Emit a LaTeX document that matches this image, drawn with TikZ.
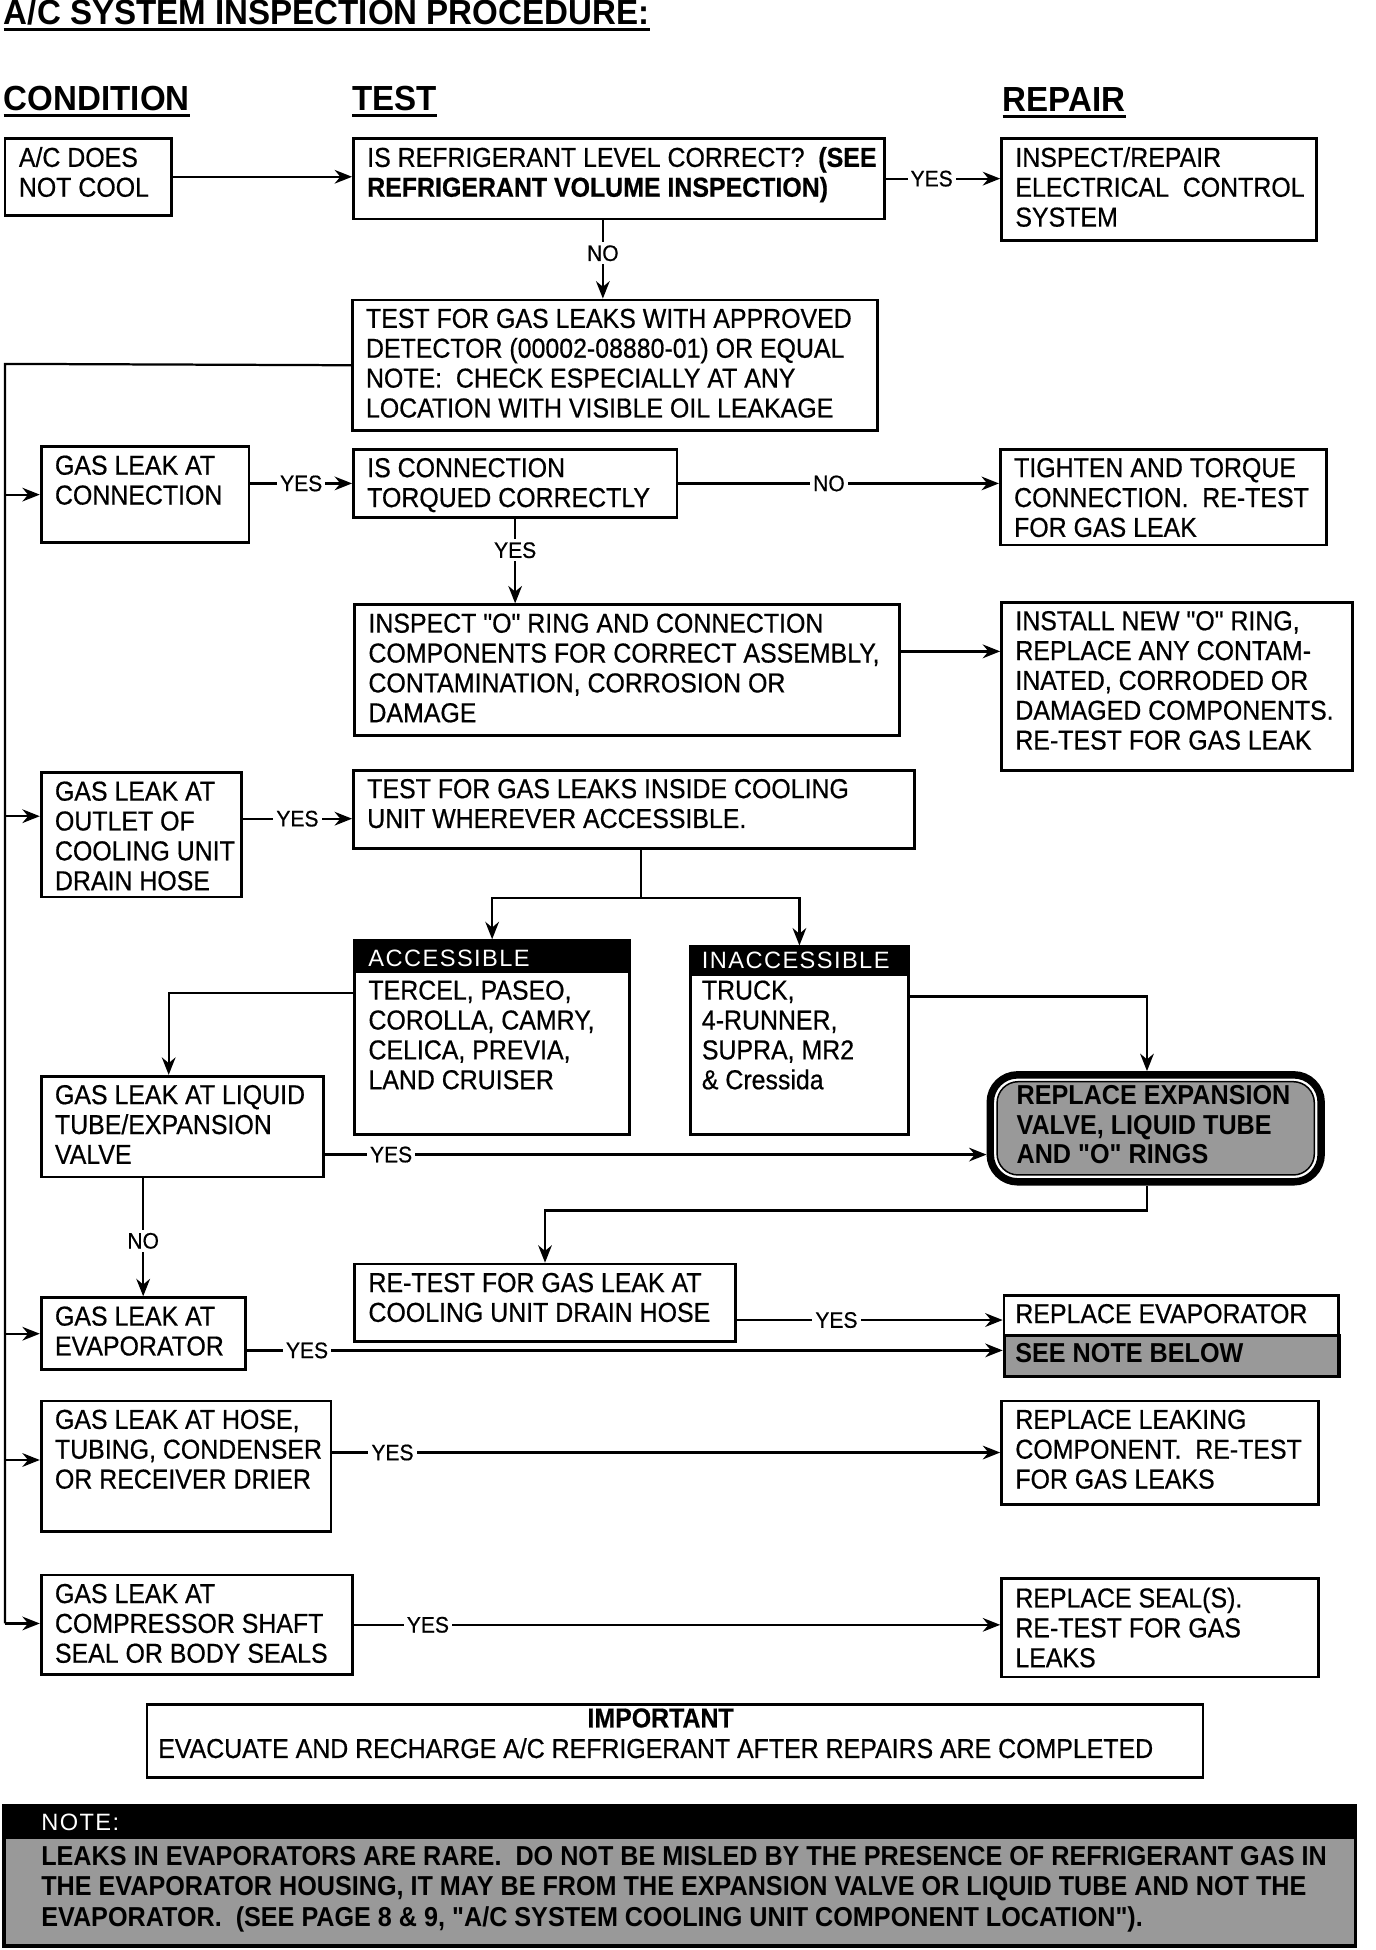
\documentclass[tikz,border=0pt]{standalone}
\usepackage{fontspec}
\setmainfont{Liberation Sans}
\newfontfamily\bodyff[FakeStretch=0.91,FakeBold=0.6]{Liberation Sans}
\newfontfamily\titleff[FakeStretch=0.95]{Liberation Sans}
\newfontfamily\lblff[FakeStretch=0.94,FakeBold=0.6]{Liberation Sans}
\newfontfamily\noteff[FakeStretch=0.92]{Liberation Sans}
\newfontfamily\hdrff[LetterSpace=6]{Liberation Sans}
\usetikzlibrary{arrows.meta,calc}
\newcommand\flowbox[6]{%
  \node[boxst, minimum width={#4-#2}, minimum height={#5-#3}] (#1) at (#2,#3) {};
  \node[txt] (#1-t) at ({#2+12},{#3+8}) {#6};}
\begin{document}
\begin{tikzpicture}[x=1pt, y=-1pt,
  boxst/.style={draw, line width=2.2pt, anchor=north west, inner sep=0pt},
  txt/.style={anchor=north west, inner sep=0pt, align=left, font={\bodyff\fontsize{22}{24}\selectfont}},
  ttl/.style={inner sep=0pt, font={\titleff\bfseries\fontsize{28}{30}\selectfont}},
  ul/.style={line width=2.5pt},
  ln/.style={line width=1.8pt},
  arr/.style={line width=1.8pt, -{Stealth[length=14pt, width=11pt]}},
  lbl/.style={fill=white, inner sep=2.5pt, font={\lblff\fontsize{18}{20}\selectfont}},
  hdr/.style={anchor=west, inner sep=0pt, text=white, font={\hdrff\fontsize{19}{21}\selectfont}},
  shade/.style={fill=black!40}]
\useasboundingbox (0,0) rectangle (1106,1567.5);

% headings
\node[ttl, anchor=base west] (title) at (3,20) {A/C SYSTEM INSPECTION PROCEDURE:};
\node[ttl, anchor=base west] (hcond) at (3,89) {CONDITION};
\node[ttl, anchor=base west] (htest) at (283,89) {TEST};
\node[ttl, anchor=base west] (hrep) at (806,90) {REPAIR};
\foreach \h in {title,hcond,htest,hrep}
  \draw[ul] ([yshift=-3.5pt]\h.base west) -- ([yshift=-3.5pt]\h.base east);

% boxes
\flowbox{acdoes}{3}{110}{137}{172}{A/C DOES\\NOT COOL}
\flowbox{refq}{283}{110}{710}{175}{IS REFRIGERANT LEVEL CORRECT?\ \ \textbf{(SEE}\\\textbf{REFRIGERANT VOLUME INSPECTION)}}
\flowbox{elec}{804}{110}{1057}{192}{INSPECT/REPAIR\\ELECTRICAL\ \ CONTROL\\SYSTEM}
\flowbox{gastest}{282}{240}{704}{345}{TEST FOR GAS LEAKS WITH APPROVED\\DETECTOR (00002-08880-01) OR EQUAL\\NOTE:\ \ CHECK ESPECIALLY AT ANY\\LOCATION WITH VISIBLE OIL LEAKAGE}
\flowbox{gasconn}{32}{358}{199}{435}{GAS LEAK AT\\CONNECTION}
\flowbox{torq}{283}{360}{543}{415}{IS CONNECTION\\TORQUED CORRECTLY}
\flowbox{tight}{803}{360}{1065}{437}{TIGHTEN AND TORQUE\\CONNECTION.\ \ RE-TEST\\FOR GAS LEAK}
\flowbox{inspO}{284}{485}{722}{590}{INSPECT "O" RING AND CONNECTION\\COMPONENTS FOR CORRECT ASSEMBLY,\\CONTAMINATION, CORROSION OR\\DAMAGE}
\flowbox{install}{804}{483}{1086}{618}{INSTALL NEW "O" RING,\\REPLACE ANY CONTAM-\\INATED, CORRODED OR\\DAMAGED COMPONENTS.\\RE-TEST FOR GAS LEAK}
\flowbox{outlet}{32}{620}{193}{720}{GAS LEAK AT\\OUTLET OF\\COOLING UNIT\\DRAIN HOSE}
\flowbox{inside}{283}{618}{734}{681}{TEST FOR GAS LEAKS INSIDE COOLING\\UNIT WHEREVER ACCESSIBLE.}
\flowbox{liquid}{32}{864}{259}{945}{GAS LEAK AT LIQUID\\TUBE/EXPANSION\\VALVE}
\flowbox{retest}{284}{1015}{590}{1077}{RE-TEST FOR GAS LEAK AT\\COOLING UNIT DRAIN HOSE}
\flowbox{evap}{32}{1042}{196}{1100}{GAS LEAK AT\\EVAPORATOR}
\flowbox{hose}{32}{1125}{265}{1230}{GAS LEAK AT HOSE,\\TUBING, CONDENSER\\OR RECEIVER DRIER}
\flowbox{replk}{804}{1125}{1059}{1208}{REPLACE LEAKING\\COMPONENT.\ \ RE-TEST\\FOR GAS LEAKS}
\flowbox{comp}{32}{1265}{282}{1345}{GAS LEAK AT\\COMPRESSOR SHAFT\\SEAL OR BODY SEALS}
\flowbox{repseal}{804}{1268}{1059}{1347}{REPLACE SEAL(S).\\RE-TEST FOR GAS\\LEAKS}

% accessible / inaccessible
\node[boxst, minimum width=221, minimum height=156] (access) at (284,755) {};
\node[fill=black, anchor=north west, minimum width=221, minimum height=27, inner sep=0pt] (access-h) at (284,755) {};
\node[hdr] (access-ht) at (296,770) {ACCESSIBLE};
\node[txt] (access-t) at (296,788) {TERCEL, PASEO,\\COROLLA, CAMRY,\\CELICA, PREVIA,\\LAND CRUISER};
\node[boxst, minimum width=175, minimum height=151] (inacc) at (554,760) {};
\node[fill=black, anchor=north west, minimum width=175, minimum height=24, inner sep=0pt] (inacc-h) at (554,760) {};
\node[hdr] (inacc-ht) at (564,772) {INACCESSIBLE};
\node[txt] (inacc-t) at (564,788) {TRUCK,\\4-RUNNER,\\SUPRA, MR2\\\& Cressida};

% replace expansion valve
\node[draw, line width=6pt, rounded corners=22pt, fill=white, anchor=north west, minimum width=266, minimum height=86, inner sep=0pt] (repexp) at (793,861) {};
\node[draw, line width=1.2pt, shade, rounded corners=17pt, minimum width=255, minimum height=75, inner sep=0pt] (repexp-in) at (repexp.center) {};
\node[txt, font={\noteff\bfseries\fontsize{22}{24}\selectfont}] (repexp-t) at (817,872) {REPLACE EXPANSION\\VALVE, LIQUID TUBE\\AND "O" RINGS};

% replace evaporator
\node[boxst, minimum width=269, minimum height=32] (repevap) at (806,1040) {};
\node[txt] (repevap-t) at (816,1048) {REPLACE EVAPORATOR};
\node[draw, line width=3pt, shade, anchor=north west, minimum width=269, minimum height=33, inner sep=0pt] (seenote) at (806,1072) {};
\node[txt, font={\noteff\bfseries\fontsize{22}{24}\selectfont}] (seenote-t) at (816,1080) {SEE NOTE BELOW};

% important
\node[boxst, minimum width=849, minimum height=59] (imp) at (117,1369) {};
\node[inner sep=0pt, font={\bodyff\bfseries\fontsize{22}{24}\selectfont}] (imp-h) at (531,1381) {IMPORTANT};
\node[txt] (imp-t) at (127,1397) {EVACUATE AND RECHARGE A/C REFRIGERANT AFTER REPAIRS ARE COMPLETED};

% note
\node[draw, line width=2.5pt, shade, anchor=north west, minimum width=1086, minimum height=113, inner sep=0pt] (note) at (2,1450) {};
\node[fill=black, anchor=north west, minimum width=1086, minimum height=28, inner sep=0pt] (note-h) at (2,1450) {};
\node[hdr] (note-ht) at (33,1465) {NOTE:};
\node[txt, font={\noteff\bfseries\fontsize{22}{24.5}\selectfont}] (note-t) at (33,1484) {LEAKS IN EVAPORATORS ARE RARE.\ \ DO NOT BE MISLED BY THE PRESENCE OF REFRIGERANT GAS IN\\THE EVAPORATOR HOUSING, IT MAY BE FROM THE EXPANSION VALVE OR LIQUID TUBE AND NOT THE\\EVAPORATOR.\ \ (SEE PAGE 8 \& 9, "A/C SYSTEM COOLING UNIT COMPONENT LOCATION").};

% helper coordinates
\coordinate (outletin) at ([yshift=15pt]outlet.west);
\coordinate (hosein) at ([yshift=5pt]hose.west);
\coordinate (insidein) at ([yshift=-7.5pt]inside.west);
\coordinate (seenotein) at ([yshift=4.5pt]seenote.west);
\coordinate (inspOout) at ([yshift=15pt]inspO.east);
\coordinate (refqout) at ([xshift=-13pt]refq.south);
\coordinate (accout) at ([yshift=36pt]access.west);
\coordinate (liqin) at ([xshift=-11pt]liquid.north);
\coordinate (inaccout) at ([yshift=35.5pt]inacc.east);
\coordinate (repexpin) at ([xshift=-7pt]repexp.north);
\coordinate (repexpout) at ([xshift=-7pt]repexp.south);
\coordinate (liqout) at ([yshift=-22.5pt]liquid.east);
\coordinate (retestout) at ([yshift=-14pt]retest.east);

% connectors
\draw[arr] (acdoes.east) -- (acdoes.east -| refq.west);
\draw[arr] (refq.east) -- node[lbl, pos=0.4]{YES} (refq.east -| elec.west);
\draw[arr] (refqout) -- node[lbl, pos=0.42]{NO} (refqout |- gastest.north);

\coordinate (sptop) at (4,292.5);
\coordinate (spbot) at (4,1305);
\draw[ln] (gastest.west) -- (sptop) -- (spbot);
\draw[arr] (sptop |- gasconn.west) -- (gasconn.west);
\draw[arr] (sptop |- outletin) -- (outletin);
\draw[arr] (sptop |- evap.west) -- (evap.west);
\draw[arr] (sptop |- hosein) -- (hosein);
\draw[arr] (spbot) -- (spbot -| comp.west);

\draw[arr] (gasconn.east |- torq.west) -- node[lbl]{YES} (torq.west);
\draw[arr] (torq.east) -- node[lbl, pos=0.47]{NO} (torq.east -| tight.west);
\draw[arr] (torq.south) -- node[lbl, pos=0.37]{YES} (torq.south |- inspO.north);
\draw[arr, line width=2.8pt] (inspOout) -- (inspOout -| install.west);
\draw[arr] (outlet.east |- insidein) -- node[lbl]{YES} (insidein);

\coordinate (split) at (515,722);
\draw[ln] (inside.south -| split) -- (split);
\draw[arr] (split) -| (access.north);
\draw[arr] (split) -| (inacc.north);
\draw[arr] (accout) -| (liqin);
\draw[arr] (inaccout) -| (repexpin);
\draw[arr] (liqout) -- node[lbl, pos=0.1]{YES} (liqout -| repexp.west);
\draw[arr] (repexpout) -- ++(0,20) -| (retest.north);
\draw[arr] (evap.north |- liquid.south) -- node[lbl, pos=0.53]{NO} (evap.north);
\draw[arr] (retestout) -- node[lbl, pos=0.375]{YES} (retestout -| repevap.west);
\draw[arr] (evap.east |- seenotein) -- node[lbl, pos=0.08]{YES} (seenotein);
\draw[arr] (hose.east |- replk.west) -- node[lbl, pos=0.09]{YES} (replk.west);
\draw[arr] (comp.east) -- node[lbl, pos=0.115]{YES} (comp.east -| repseal.west);
\end{tikzpicture}
\end{document}
